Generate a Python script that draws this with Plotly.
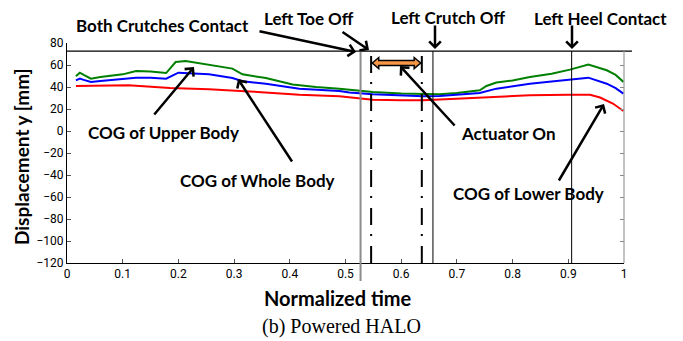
import plotly.graph_objects as go

# ---------------- data ----------------
upper_x = [0.016, 0.023, 0.03, 0.043, 0.06, 0.08, 0.1, 0.124, 0.15, 0.178, 0.185, 0.195, 0.213,
           0.237, 0.255, 0.297, 0.315, 0.357, 0.405, 0.447, 0.489, 0.507, 0.549, 0.6, 0.639,
           0.669, 0.7, 0.741, 0.753, 0.771, 0.8, 0.831, 0.87, 0.903, 0.936, 0.95, 0.969, 0.985, 0.999]
upper_y = [49.7, 53, 51, 47.6, 49, 50.5, 51.5, 54.5, 54, 52.7, 57, 62.7, 63.6,
           61.8, 60.4, 56.7, 51.5, 48.2, 42.2, 40, 38.5, 37.6, 35.5, 34, 33.4,
           33.4, 34.5, 37, 40.9, 44, 46, 49.1, 52, 55.8, 60.4, 58, 55.2, 51, 44.6]

whole_x = [0.016, 0.023, 0.03, 0.043, 0.06, 0.08, 0.1, 0.124, 0.15, 0.178, 0.2, 0.22, 0.237,
           0.255, 0.297, 0.315, 0.357, 0.417, 0.489, 0.507, 0.549, 0.6, 0.639, 0.669, 0.7,
           0.741, 0.771, 0.8, 0.831, 0.87, 0.903, 0.936, 0.969, 0.985, 0.999]
whole_y = [46, 47.6, 46.5, 44.6, 45.5, 46.5, 47, 48.5, 48.3, 47.6, 53, 52.7, 52.1,
           51.5, 48.2, 45.2, 43, 38.5, 36.4, 34.9, 33.4, 32, 31.5, 31.8, 32.8,
           34.5, 38.5, 41, 43, 45, 46.7, 48.5, 43, 39, 34]

lower_x = [0.016, 0.05, 0.11, 0.185, 0.237, 0.255, 0.327, 0.417, 0.489, 0.507, 0.549, 0.6,
           0.639, 0.699, 0.759, 0.831, 0.9, 0.939, 0.957, 0.98, 0.999]
lower_y = [40.9, 41, 41.5, 39.1, 38.5, 37.9, 36, 33, 31.5, 30.8, 28.5, 28,
           27.9, 29.4, 30.9, 32.5, 33, 33, 30.4, 25, 18.2]

x_ticks = [0, 0.1, 0.2, 0.3, 0.4, 0.5, 0.6, 0.7, 0.8, 0.9, 1]
x_tick_labels = ["0", "0.1", "0.2", "0.3", "0.4", "0.5", "0.6", "0.7", "0.8", "0.9", "1"]
y_ticks = [-120, -100, -80, -60, -40, -20, 0, 20, 40, 60, 80]

# event times (normalized)
both_crutches_contact = 0.527
left_toe_off = 0.546
actuator_off = 0.637
left_crutch_off = 0.657
left_heel_contact = 0.906
top_level = 72.7

# ---------------- layout geometry ----------------
W, H = 683, 341
L, T, PW, PH = 67, 43, 557, 220
YMIN, YMAX = -120, 80


def py(v):  # data y -> paper y
    return (v - YMIN) / (YMAX - YMIN)


def ppx(px):  # pixel x -> paper x
    return (px - L) / PW


def ppy(pix):  # pixel y -> paper y
    return (T + PH - pix) / PH


fig = go.Figure()
fig.add_trace(go.Scatter(x=upper_x, y=upper_y, mode="lines", line=dict(color="#008000", width=2),
                         name="COG of Upper Body", showlegend=False))
fig.add_trace(go.Scatter(x=whole_x, y=whole_y, mode="lines", line=dict(color="#0000FF", width=2),
                         name="COG of Whole Body", showlegend=False))
fig.add_trace(go.Scatter(x=lower_x, y=lower_y, mode="lines", line=dict(color="#FF0000", width=2),
                         name="COG of Lower Body", showlegend=False))
# dummy trace for right-side ticks
fig.add_trace(go.Scatter(x=[None], y=[None], yaxis="y2", showlegend=False, hoverinfo="skip"))

shapes = []
# top horizontal line
shapes.append(dict(type="line", xref="paper", yref="paper", x0=0, x1=ppx(632),
                   y0=py(top_level), y1=py(top_level), line=dict(color="black", width=1.2)))
# right border
shapes.append(dict(type="line", xref="paper", yref="paper", x0=1, x1=1,
                   y0=0, y1=py(top_level), line=dict(color="#9a9a9a", width=1.2)))
# both crutches contact (gray, extends below axis)
shapes.append(dict(type="line", xref="paper", yref="paper", x0=both_crutches_contact,
                   x1=both_crutches_contact, y0=ppy(281), y1=py(top_level),
                   line=dict(color="#8c8c8c", width=2)))
# dash-dot lines
for xv in (left_toe_off, actuator_off):
    shapes.append(dict(type="line", xref="paper", yref="paper", x0=xv, x1=xv,
                       y0=0, y1=py(top_level),
                       line=dict(color="black", width=2, dash="17px,10px,2px,9px")))
# thin event lines
for xv in (left_crutch_off, left_heel_contact):
    shapes.append(dict(type="line", xref="paper", yref="paper", x0=xv, x1=xv,
                       y0=0, y1=py(top_level), line=dict(color="black", width=1)))

# orange double arrow (actuator on interval)
ay_c = py(61.8)
hh = 5.5 / PH
bh = 2.6 / PH
hl = 6.5 / PW
x0, x1 = left_toe_off + 0.002, actuator_off - 0.002
path = (f"M{x0},{ay_c} L{x0+hl},{ay_c+hh} L{x0+hl},{ay_c+bh} L{x1-hl},{ay_c+bh} "
        f"L{x1-hl},{ay_c+hh} L{x1},{ay_c} L{x1-hl},{ay_c-hh} L{x1-hl},{ay_c-bh} "
        f"L{x0+hl},{ay_c-bh} L{x0+hl},{ay_c-hh} Z")
shapes.append(dict(type="path", xref="paper", yref="paper", path=path,
                   fillcolor="#F79646", line=dict(color="black", width=1.5)))

ann_font = dict(family="Lato, Open Sans, sans-serif", size=17, color="black")
annotations = []
texts = [
    ("<b>Both Crutches Contact</b>", 162, 25),
    ("<b>Left Toe Off</b>", 309, 18),
    ("<b>Left Crutch Off</b>", 448, 17),
    ("<b>Left Heel Contact</b>", 600, 18),
    ("<b>COG of Upper Body</b>", 163, 132),
    ("<b>COG of Whole Body</b>", 257, 181),
    ("<b>Actuator On</b>", 508, 133),
    ("<b>COG of Lower Body</b>", 528, 194),
]
for t, cx, cy in texts:
    annotations.append(dict(text=t, xref="paper", yref="paper", x=ppx(cx), y=ppy(cy),
                            showarrow=False, xanchor="center", yanchor="middle", font=ann_font))

arrows = [  # (tail px, head px)
    ((258, 31), (356, 52)),
    ((341, 31), (369, 50)),
    ((435, 24), (435, 49)),
    ((572, 24), (572, 49)),
    ((153, 116), (194, 67)),
    ((293, 163), (238, 79)),
    ((456, 127), (400, 66)),
    ((558, 182), (604, 104)),
]
for (tx, ty), (hx, hy) in arrows:
    annotations.append(dict(text="", xref="paper", yref="paper", x=ppx(hx), y=ppy(hy),
                            ax=tx - hx, ay=ty - hy, showarrow=True, arrowhead=4,
                            arrowsize=0.9, arrowwidth=2.5, arrowcolor="black"))

# axis titles and caption
annotations.append(dict(text="<b>Displacement y [mm]</b>", xref="paper", yref="paper",
                        x=ppx(21), y=ppy(157), textangle=-90, showarrow=False,
                        xanchor="center", yanchor="middle",
                        font=dict(family="Lato, Open Sans, sans-serif", size=19, color="black")))
annotations.append(dict(text="<b>Normalized time</b>", xref="paper", yref="paper",
                        x=ppx(338), y=ppy(298), showarrow=False,
                        xanchor="center", yanchor="middle",
                        font=dict(family="Lato, Open Sans, sans-serif", size=20, color="black")))
annotations.append(dict(text="(b) Powered HALO", xref="paper", yref="paper",
                        x=ppx(341), y=ppy(326), showarrow=False,
                        xanchor="center", yanchor="middle",
                        font=dict(family="Liberation Serif, Times New Roman, serif", size=20,
                                  color="black")))

tick_font = dict(family="Liberation Sans Narrow, Arial Narrow, Roboto, sans-serif", size=12,
                 color="black")
fig.update_layout(
    width=W, height=H,
    margin=dict(l=L, r=W - L - PW, t=T, b=H - T - PH, pad=0),
    paper_bgcolor="white", plot_bgcolor="white",
    shapes=shapes, annotations=annotations,
    xaxis=dict(range=[0, 1], tickvals=x_ticks, ticktext=x_tick_labels, ticks="inside",
               ticklen=4, tickcolor="#555", showline=True, linecolor="black", linewidth=1,
               showgrid=False, zeroline=False, tickfont=tick_font),
    yaxis=dict(range=[YMIN, YMAX], tickvals=y_ticks, ticks="inside", ticklen=4,
               tickcolor="#555", showline=True, linecolor="black", linewidth=1,
               showgrid=False, zeroline=False, tickfont=tick_font),
    yaxis2=dict(range=[YMIN, YMAX], tickvals=y_ticks, overlaying="y", side="right",
                ticks="inside", ticklen=4, tickcolor="#888", showticklabels=False,
                showline=False, showgrid=False, zeroline=False),
    showlegend=False,
)

fig.write_html("out.html")
